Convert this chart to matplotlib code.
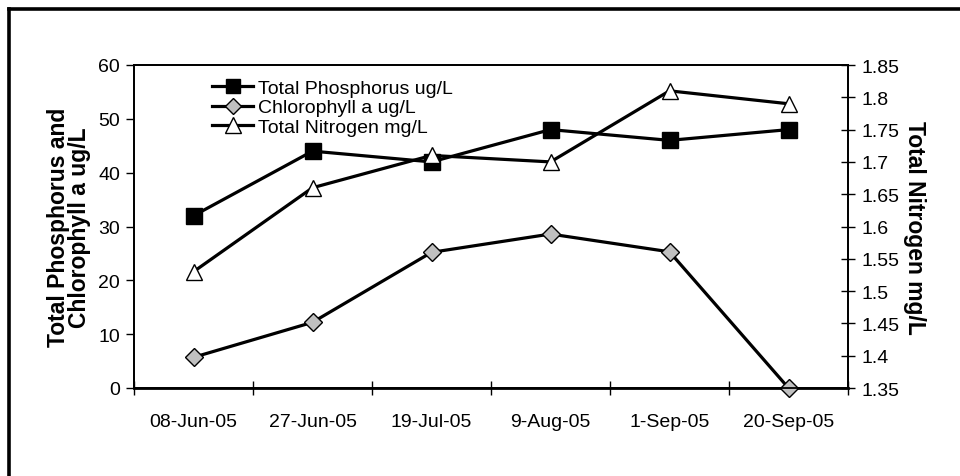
import matplotlib
matplotlib.use('Agg')
import matplotlib.pyplot as plt
from matplotlib.lines import Line2D
import numpy as np

plt.rcParams['font.family'] = ['Liberation Sans', 'DejaVu Sans']

# sampling dates and measured values
dates = ['08-Jun-05', '27-Jun-05', '19-Jul-05', '9-Aug-05', '1-Sep-05', '20-Sep-05']
phosphorus = [32, 44, 42, 48, 46, 48]            # ug/L
chlorophyll = [5.7, 12.2, 25.2, 28.6, 25.3, 0]   # ug/L
nitrogen = [1.53, 1.66, 1.71, 1.70, 1.81, 1.79]  # mg/L

fs = 14
lab_font = dict(size=16.5, weight='bold')
lw = 2.3

fig = plt.figure(figsize=(9.6, 4.77), dpi=100)
ax = fig.add_axes([134/960, 88/477, 714/960, 323/477])
ax2 = ax.twinx()

x = np.arange(len(dates))

ax.plot(x, phosphorus, color='black', lw=lw, marker='s', ms=11,
        mfc='black', mec='black', zorder=3, clip_on=False)
ax.plot(x, chlorophyll, color='black', lw=lw, marker='D', ms=9,
        mfc='#c0c0c0', mec='black', mew=1, zorder=3, clip_on=False)
ax2.plot(x, nitrogen, color='black', lw=lw, marker='^', ms=12,
         mfc='white', mec='black', mew=1, zorder=3, clip_on=False)

ax.set_xlim(-0.5, len(dates) - 0.5)
ax.set_ylim(0, 60)
ax.set_yticks(np.arange(0, 61, 10))
ax2.set_ylim(1.35, 1.85)
ax2.set_yticks(np.arange(1.35, 1.851, 0.05))
ax2.set_yticklabels(['%g' % round(v, 2) for v in np.arange(1.35, 1.851, 0.05)])

# ticks on the category boundaries, labels in the middle
ax.set_xticks(np.arange(-0.5, len(dates), 1))
ax.set_xticklabels([])
ax.set_xticks(x, minor=True)
ax.set_xticklabels(dates, minor=True, fontsize=fs)
ax.tick_params(axis='x', which='major', direction='inout', length=10, width=1)
ax.tick_params(axis='x', which='minor', length=0, pad=18)
ax.tick_params(axis='y', direction='out', length=6, width=1, pad=4, labelsize=fs)
ax2.tick_params(axis='y', direction='inout', length=10, width=1, pad=5, labelsize=fs)

for a in (ax, ax2):
    for s in a.spines.values():
        s.set_linewidth(1.3)
ax.spines['bottom'].set_linewidth(2)

ax.set_ylabel('Total Phosphorus and\nChlorophyll a ug/L', fontdict=lab_font,
              linespacing=0.9, labelpad=5)
ax2.set_ylabel('Total Nitrogen mg/L', fontdict=lab_font,
               rotation=-90, labelpad=18.5)

handles = [
    Line2D([], [], color='black', lw=lw, marker='s', ms=10.5, mfc='black'),
    Line2D([], [], color='black', lw=lw, marker='D', ms=8, mfc='#c0c0c0', mew=1),
    Line2D([], [], color='black', lw=lw, marker='^', ms=11, mfc='white', mew=1),
]
labels = ['Total Phosphorus ug/L', 'Chlorophyll a ug/L', 'Total Nitrogen mg/L']
leg = ax2.legend(handles, labels, loc='upper left', bbox_to_anchor=(0.106, 0.962),
                 frameon=False, fontsize=fs, handlelength=2.15, handletextpad=0.25,
                 labelspacing=0.1, borderpad=0.1, borderaxespad=0)

# frame around the figure (only top and left edges fall inside the canvas)
fig.add_artist(Line2D([8.5/960, 1.0], [1 - 9.5/477, 1 - 9.5/477],
                      transform=fig.transFigure, color='black', lw=2.6))
fig.add_artist(Line2D([8.5/960, 8.5/960], [0, 1 - 9.5/477],
                      transform=fig.transFigure, color='black', lw=2.6))

fig.savefig('out.png', dpi=100)
